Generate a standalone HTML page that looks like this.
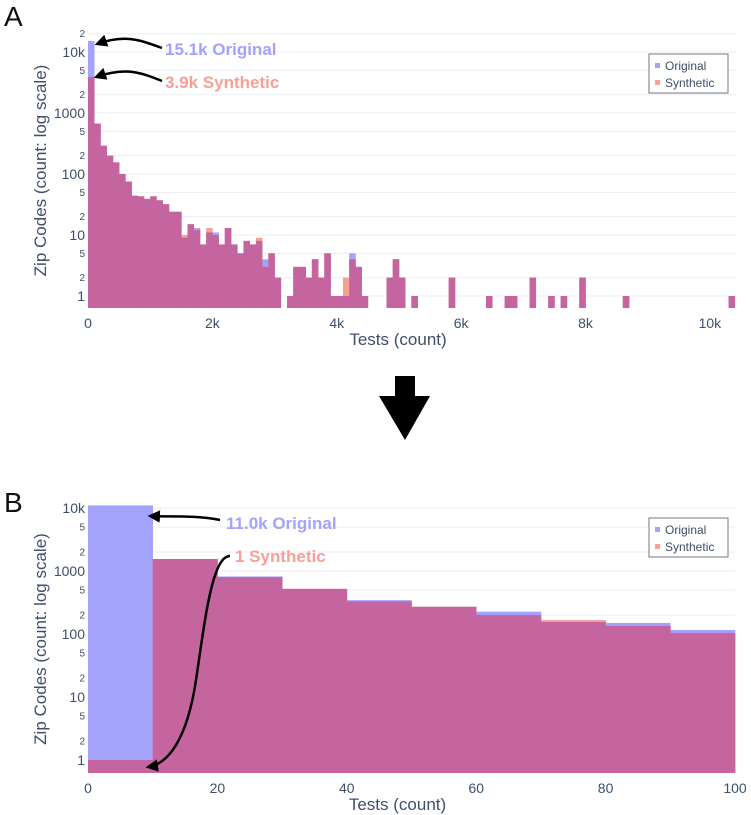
<!DOCTYPE html>
<html><head><meta charset="utf-8"><style>
html,body{margin:0;padding:0;background:#fff}
svg{display:block;font-family:"Liberation Sans",sans-serif}
</style></head><body>
<svg id="c" width="751" height="815" viewBox="0 0 751 815">
<defs><marker id="ah" viewBox="0 0 10 10" refX="8" refY="5" markerWidth="5" markerHeight="5" orient="auto"><path d="M0,0 L10,5 L0,10 z" fill="#000"/></marker></defs>
<g id="gA"></g>
<g id="gB"></g>
<text x="4" y="26" font-size="28" fill="#111">A</text>
<text x="4" y="512" font-size="28" fill="#111">B</text>
<path d="M395,376 H415 V396 H430 L405,440 L379,396 H395 Z" fill="#000"/>
<text x="165" y="55" font-size="17" font-weight="bold" fill="#a3a3fc">15.1k Original</text>
<text x="165" y="88" font-size="17" font-weight="bold" fill="#f7a096">3.9k Synthetic</text>
<path d="M162,48 C140,40 125,34 97,44" fill="none" stroke="#000" stroke-width="2.5" marker-end="url(#ah)"/>
<path d="M162,81 C140,72 125,67 96,77" fill="none" stroke="#000" stroke-width="2.5" marker-end="url(#ah)"/>
<text x="226" y="529" font-size="17" font-weight="bold" fill="#a3a3fc">11.0k Original</text>
<text x="235" y="562" font-size="17" font-weight="bold" fill="#f7a096">1 Synthetic</text>
<path d="M220,520 C195,515 170,517 150,516" fill="none" stroke="#000" stroke-width="2.5" marker-end="url(#ah)"/>
<path d="M230,556 C212,556 205,620 196,680 S168,764 148,767" fill="none" stroke="#000" stroke-width="2.5" marker-end="url(#ah)"/>
</svg>
<script>
// Panel A data (bin width 100 tests)
const binWidthA = 100;
const origHeadA = [15100,670,290,200,155,100,75,44,43,39,43,37,32,24,24,9,15,13,7,11,11,7,13,7,5,8,7,8,4,5,2,0,1,3,3,2,4,2,5,1,1,1,5,3,1];
const synHeadA  = [3900,670,290,200,155,100,75,44,43,39,43,37,32,24,24,10,15,12,7,13,10,7,13,7,5,8,7,9,3,5,2,0,1,3,3,2,4,2,5,1,1,2,4,3,1];
const tailBinsA = [48,49,50,52,58,64,67,68,71,74,76,79,86,103];
const tailCountsA = [2,4,2,1,2,1,1,1,2,1,1,2,1,1];
const xTicksA = [0,2000,4000,6000,8000,10000];
const xTickLabelsA = ["0","2k","4k","6k","8k","10k"];
const yTicksA = [1,2,5,10,20,50,100,200,500,1000,2000,5000,10000,20000];
const yTickLabelsA = ["1","2","5","10","2","5","100","2","5","1000","2","5","10k","2"];
// Panel B data (bin width 10 tests)
const binWidthB = 10;
const origB = [11000,1550,820,520,345,270,226,155,150,116];
const synB  = [1,1550,800,520,330,270,200,167,135,104];
const xTicksB = [0,20,40,60,80,100];
const xTickLabelsB = ["0","20","40","60","80","100"];
const yTicksB = [1,2,5,10,20,50,100,200,500,1000,2000,5000,10000];
const yTickLabelsB = ["1","2","5","10","2","5","100","2","5","1000","2","5","10k"];

const NS="http://www.w3.org/2000/svg";
function mk(tag,attrs,parent){const e=document.createElementNS(NS,tag);for(const k in attrs)e.setAttribute(k,attrs[k]);parent.appendChild(e);return e;}
const BLUE="#a3a3fc",RED="#f7a096",PURP="#c4659f",TXT="#3d4f6b";

function drawPanel(g,cfg){
  const xs=v=>cfg.x0+(v-cfg.xmin)*(cfg.x1-cfg.x0)/(cfg.xmax-cfg.xmin);
  const ys=v=>cfg.y1-cfg.ppd*Math.log10(v);
  cfg.yTicks.forEach((t,i)=>{
    const major=/^1/.test(cfg.yLabels[i]);
    const gl=mk('line',{x1:cfg.x0,x2:cfg.x1,y1:ys(t),y2:ys(t),stroke:'#ebeef3','stroke-width':1},g);
    
    
    const tl=mk('text',{x:cfg.x0-3,y:ys(t)+(major?5:3.5),'text-anchor':'end','font-size':major?14:10,fill:TXT},g);
    tl.textContent=cfg.yLabels[i];
    
    
  });
  const bars=(arr,color,name)=>{
    arr.forEach((v,i)=>{ if(!v||v<=0) return;
      const xa=xs(i*cfg.bw), xb=xs((i+1)*cfg.bw), yt=ys(v);
      const r=mk('rect',{x:xa,y:yt,width:xb-xa+0.3,height:cfg.base-yt,fill:color},g);
      
      
    });
  };
  const mins=cfg.orig.map((v,i)=>Math.min(v,cfg.syn[i]||0));
  bars(cfg.orig,BLUE,'bar-original');
  bars(cfg.syn,RED,'bar-synthetic');
  bars(mins,PURP,'bar-overlap');
  cfg.xTicks.forEach((t,i)=>{
    const tl=mk('text',{x:xs(t),y:cfg.base+20,'text-anchor':'middle','font-size':14,fill:TXT},g);
    tl.textContent=cfg.xLabels[i];
    
    
  });
  const xt=mk('text',{x:(cfg.x0+cfg.x1)/2-14,y:cfg.base+37,'text-anchor':'middle','font-size':17,fill:TXT},g);
  xt.textContent='Tests (count)';
  
  
  const cy=(cfg.yTop+cfg.base)/2;
  const yt=mk('text',{x:0,y:0,transform:`translate(46,${cy}) rotate(-90)`,'text-anchor':'middle','font-size':17,fill:TXT},g);
  yt.textContent='Zip Codes (count: log scale)';
  
  
  const lg=mk('g',{},g);
  
  
  mk('rect',{x:649,y:cfg.legY,width:79,height:39,fill:'#fff',stroke:'#777','stroke-width':1},lg);
  [['Original',BLUE],['Synthetic',RED]].forEach((e,i)=>{
    const en=mk('g',{},lg);
    
    
    mk('rect',{x:655,y:cfg.legY+9+i*17,width:5,height:5,fill:e[1]},en);
    const t=mk('text',{x:665,y:cfg.legY+16+i*17,'font-size':12,fill:TXT},en);
    t.textContent=e[0];
  });
}

const nA=105, origA=new Array(nA).fill(0), synA=new Array(nA).fill(0);
origHeadA.forEach((v,i)=>origA[i]=v); synHeadA.forEach((v,i)=>synA[i]=v);
tailBinsA.forEach((b,i)=>{origA[b]=tailCountsA[i];synA[b]=tailCountsA[i];});

drawPanel(document.getElementById('gA'),{x0:88,x1:736,xmin:0,xmax:10420,y1:296,ppd:61,base:308,yTop:33,bw:binWidthA,
  orig:origA,syn:synA,xTicks:xTicksA,xLabels:xTickLabelsA,yTicks:yTicksA,yLabels:yTickLabelsA,legY:54});
drawPanel(document.getElementById('gB'),{x0:88,x1:735,xmin:0,xmax:100,y1:760,ppd:63,base:773,yTop:505,bw:binWidthB,
  orig:origB,syn:synB,xTicks:xTicksB,xLabels:xTickLabelsB,yTicks:yTicksB,yLabels:yTickLabelsB,legY:518});
const svg=document.getElementById('c');
['gA','gB'].forEach(id=>svg.insertBefore(document.getElementById(id),svg.children[1]));
</script>
</body></html>
